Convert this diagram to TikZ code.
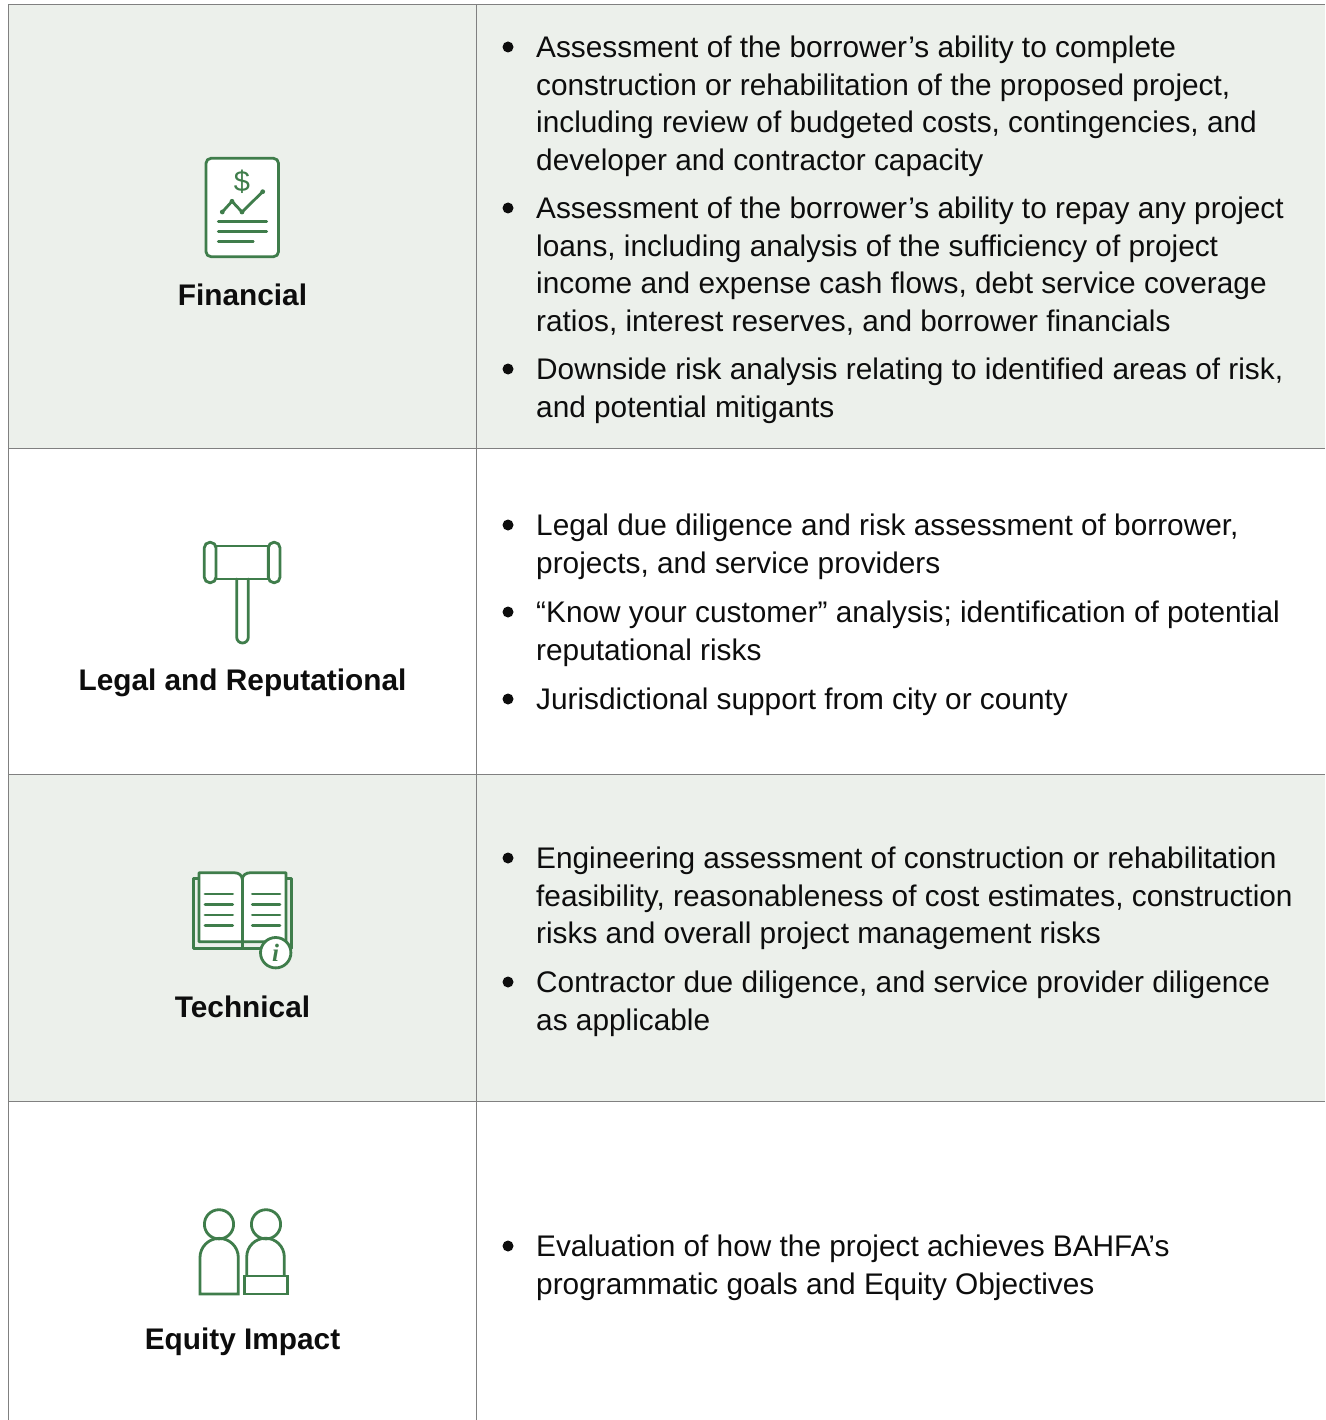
\documentclass[tikz,border=0pt]{standalone}
\usepackage{fontspec}
\setmainfont{Liberation Sans}
\newfontfamily\iserif{Liberation Serif}
\definecolor{tint}{HTML}{ECF0EB}
\definecolor{rulegray}{HTML}{808080}
\definecolor{icongreen}{HTML}{3F7D4B}
\definecolor{inktext}{HTML}{0D0D0D}
\newcommand{\fl}{\rule{0pt}{24.5pt}}
\tikzset{
  rowfill/.style={fill=tint,draw=none},
  gridline/.style={draw=rulegray,line width=1pt},
  icon/.style={draw=icongreen,line width=2.8pt,line cap=round,line join=round},
  heading/.style={font=\fontsize{29.8}{34}\selectfont\bfseries,text=inktext,inner sep=0pt,anchor=base},
  bodytext/.style={font=\fontsize{29.8}{37.5}\selectfont,text=inktext,inner sep=0pt,anchor=north west,align=left},
  dotmark/.style={circle,fill=inktext,draw=none,minimum size=11pt,inner sep=0pt}
}
\begin{document}
\begin{tikzpicture}[x=1pt,y=-1pt]
\useasboundingbox (0,0) rectangle (1325,1420);
\fill[white] (0,0) rectangle (1325,1420);
\fill[rowfill] (8.5,4.5) rectangle (1325,448);
\fill[rowfill] (8.5,774) rectangle (1325,1101);
\draw[gridline] (8.5,4.5) -- (1325,4.5);
\draw[gridline] (8.5,448) -- (1325,448);
\draw[gridline] (8.5,774) -- (1325,774);
\draw[gridline] (8.5,1101) -- (1325,1101);
\draw[gridline] (8.5,4.5) -- (8.5,1420);
\draw[gridline] (476.5,4.5) -- (476.5,1420);

% Financial icon
\draw[icon,fill=white,rounded corners=5pt] (206,158.3) rectangle (278.5,256.7);
\node[font=\fontsize{29}{29}\selectfont,text=icongreen,inner sep=0pt] (dollar) at (242,182) {\$};
\draw[icon] (222.3,212) -- (232,201.3) -- (242,212) -- (262.7,191.7);
\fill[icongreen] (222.3,212) circle (2.4) (232,201.3) circle (2.4) (242,212) circle (2.4) (262.7,191.7) circle (2.4);
\draw[icon] (218.3,221.7) -- (266.7,221.7) (218.3,231.7) -- (266.7,231.7) (218.3,241.7) -- (253.3,241.7);

% Legal icon
\draw[icon] (216,546) rectangle (268.3,579);
\draw[icon,rounded corners=5.5pt] (204.3,542.3) rectangle (216,582.7);
\draw[icon,rounded corners=5.5pt] (268.3,542.3) rectangle (280,582.7);
\draw[icon] (236.7,579) -- (236.7,637.2) arc[start angle=180,end angle=0,radius=5.8] -- (248.3,579);

% Technical icon
\draw[icon] (199,878.3) -- (193.3,878.3) -- (193.3,948.3) -- (291.7,948.3) -- (291.7,878.3) -- (286,878.3);
\draw[icon,fill=white] (199,941.7) -- (199,872.7) -- (234,872.7) .. controls (239,872.7) and (242.3,875.5) .. (242.3,879.5)
  .. controls (242.3,875.5) and (245.6,872.7) .. (250.6,872.7) -- (286,872.7) -- (286,941.7) -- cycle;
\draw[icon] (242.3,879.5) -- (242.3,948.3);
\draw[icon] (205,894) -- (232.7,894) (205,904.3) -- (232.7,904.3) (205,915) -- (232.7,915) (205,925.7) -- (232.7,925.7);
\draw[icon] (252.3,894) -- (280,894) (252.3,904.3) -- (280,904.3) (252.3,915) -- (280,915) (252.3,925.7) -- (280,925.7);
\draw[icon,fill=white] (275.7,952.7) circle (15.2);
\node[font=\fontsize{25}{25}\selectfont\iserif\bfseries\itshape,text=icongreen,inner sep=0pt] (infoi) at (275.7,952.7) {i};

% Equity icon
\draw[icon] (219,1224.3) circle (14.6);
\draw[icon] (266,1224.3) circle (14.6);
\draw[icon,line cap=butt,line join=miter] (200,1294) -- (200,1257.5) arc[start angle=180,end angle=360,radius=19.15] -- (238.3,1294) -- cycle;
\draw[icon,line cap=butt,line join=miter] (246.7,1276) -- (246.7,1257) arc[start angle=180,end angle=360,radius=18.8] -- (284.3,1276);
\draw[icon,line cap=butt,line join=miter] (244.3,1276) rectangle (287.7,1294);

% Headings
\node[heading] (h1) at (242.5,305.5) {Financial};
\node[heading] (h2) at (242.5,690.5) {Legal and Reputational};
\node[heading] (h3) at (242.5,1017.5) {Technical};
\node[heading] (h4) at (242.5,1349.5) {Equity Impact};

% Bullets and text
\node[dotmark] (d1) at (508,47) {};
\node[bodytext] (t1) at (536,33) {\fl Assessment of the borrower’s ability to complete\\construction or rehabilitation of the proposed project,\\including review of budgeted costs, contingencies, and\\developer and contractor capacity};
\node[dotmark] (d2) at (508,208) {};
\node[bodytext] (t2) at (536,194) {\fl Assessment of the borrower’s ability to repay any project\\loans, including analysis of the sufficiency of project\\income and expense cash flows, debt service coverage\\ratios, interest reserves, and borrower financials};
\node[dotmark] (d3) at (508,369) {};
\node[bodytext] (t3) at (536,355) {\fl Downside risk analysis relating to identified areas of risk,\\and potential mitigants};

\node[dotmark] (d4) at (508,525) {};
\node[bodytext] (t4) at (536,511) {\fl Legal due diligence and risk assessment of borrower,\\projects, and service providers};
\node[dotmark] (d5) at (508,612) {};
\node[bodytext] (t5) at (536,598) {\fl “Know your customer” analysis; identification of potential\\reputational risks};
\node[dotmark] (d6) at (508,699) {};
\node[bodytext] (t6) at (536,685) {\fl Jurisdictional support from city or county};

\node[dotmark] (d7) at (508,858) {};
\node[bodytext] (t7) at (536,844) {\fl Engineering assessment of construction or rehabilitation\\feasibility, reasonableness of cost estimates, construction\\risks and overall project management risks};
\node[dotmark] (d8) at (508,982) {};
\node[bodytext] (t8) at (536,968) {\fl Contractor due diligence, and service provider diligence\\as applicable};

\node[dotmark] (d9) at (508,1246) {};
\node[bodytext] (t9) at (536,1232) {\fl Evaluation of how the project achieves BAHFA’s\\programmatic goals and Equity Objectives};
\end{tikzpicture}
\end{document}
